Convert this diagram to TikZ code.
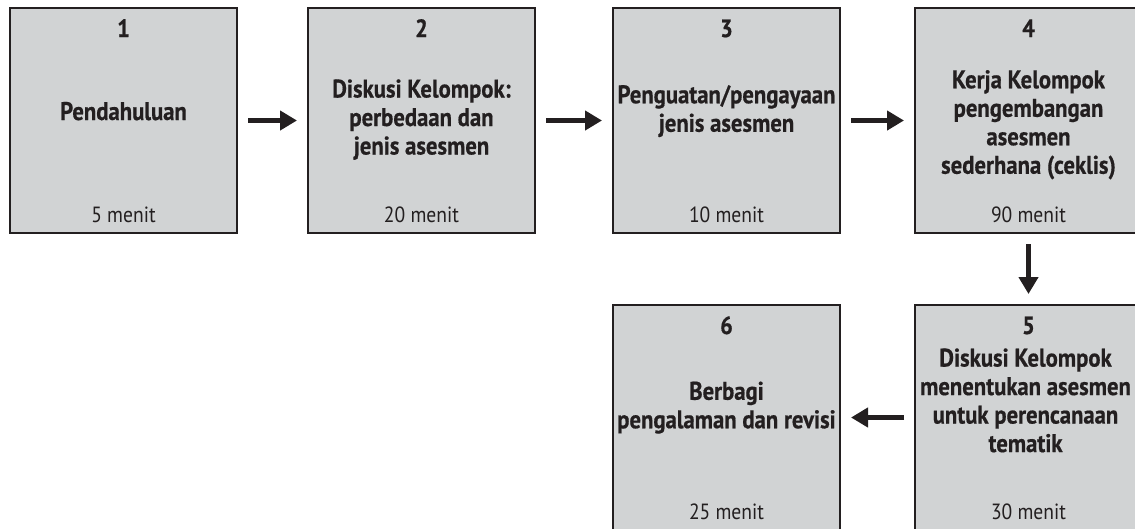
\documentclass[tikz,border=0pt]{standalone}
\usepackage{fontspec}
\setmainfont{PT Sans}[FakeStretch=0.89, BoldFeatures={FakeBold=0.6}]
\usetikzlibrary{arrows.meta}
\definecolor{boxfill}{HTML}{D1D3D4}
\definecolor{ink}{HTML}{231F20}
\begin{document}
\begin{tikzpicture}[x=1pt,y=-1pt,
  box/.style={draw=ink, fill=boxfill, line width=2pt, minimum width=227pt, minimum height=225pt, anchor=north west, inner sep=0pt},
  num/.style={anchor=base, inner sep=0pt, text=ink, font=\fontsize{25}{28.5}\selectfont\bfseries},
  mid/.style={align=center, inner sep=0pt, text=ink, font=\fontsize{25.5}{28.5}\selectfont\bfseries},
  dur/.style={anchor=base, inner sep=0pt, text=ink, font=\fontsize{22}{26}\selectfont},
  arr/.style={draw=ink, line width=5.5pt, -{Triangle[length=17pt,width=19pt]}, shorten <=10pt, shorten >=10pt}]
\useasboundingbox (0,0) rectangle (1135,528);
\clip (0,0) rectangle (1135,528);
% boxes
\node[box] (b1) at (9,7) {};
\node[box] (b2) at (307,7) {};
\node[box] (b3) at (612,7) {};
\node[box] (b4) at (914,7) {};
\node[box] (b5) at (914,304) {};
\node[box] (b6) at (612,304) {};
% box 1
\node[num] (n1) at ([yshift=-30pt]b1.north) {1};
\node[mid] (m1) at ([yshift=-107.3pt]b1.north) {\strut Pendahuluan};
\node[dur] (d1) at ([yshift=-215pt]b1.north) {5 menit};
% box 2
\node[num] (n2) at ([yshift=-30pt]b2.north) {2};
\node[mid] (m2) at ([yshift=-113.3pt]b2.north) {\strut Diskusi Kelompok:\\\strut perbedaan dan\\\strut jenis asesmen};
\node[dur] (d2) at ([yshift=-215pt]b2.north) {20 menit};
% box 3
\node[num] (n3) at ([yshift=-30pt]b3.north) {3};
\node[mid] (m3) at ([yshift=-104.8pt]b3.north) {\strut Penguatan/pengayaan\\\strut jenis asesmen};
\node[dur] (d3) at ([yshift=-215pt]b3.north) {10 menit};
% box 4
\node[num] (n4) at ([yshift=-30pt]b4.north) {4};
\node[mid] (m4) at ([yshift=-118.3pt]b4.north) {\strut Kerja Kelompok\\\strut pengembangan\\\strut asesmen\\\strut sederhana (ceklis)};
\node[dur] (d4) at ([yshift=-215pt]b4.north) {90 menit};
% box 5
\node[num] (n5) at ([yshift=-30pt]b5.north) {5};
\node[mid] (m5) at ([yshift=-99.6pt,xshift=-3pt]b5.north) {\strut Diskusi Kelompok\\\strut menentukan asesmen\\\strut untuk perencanaan\\\strut tematik};
\node[dur] (d5) at ([yshift=-215pt]b5.north) {30 menit};
% box 6
\node[num] (n6) at ([yshift=-30pt]b6.north) {6};
\node[mid] (m6) at ([yshift=-104.3pt]b6.north) {\strut Berbagi\\\strut pengalaman dan revisi};
\node[dur] (d6) at ([yshift=-215pt]b6.north) {25 menit};
% connectors
\draw[arr] (b1) -- (b2);
\draw[arr] (b2) -- (b3);
\draw[arr] (b3) -- (b4);
\draw[arr] (b4) -- (b5);
\draw[arr] (b5) -- (b6);
\end{tikzpicture}
\end{document}
